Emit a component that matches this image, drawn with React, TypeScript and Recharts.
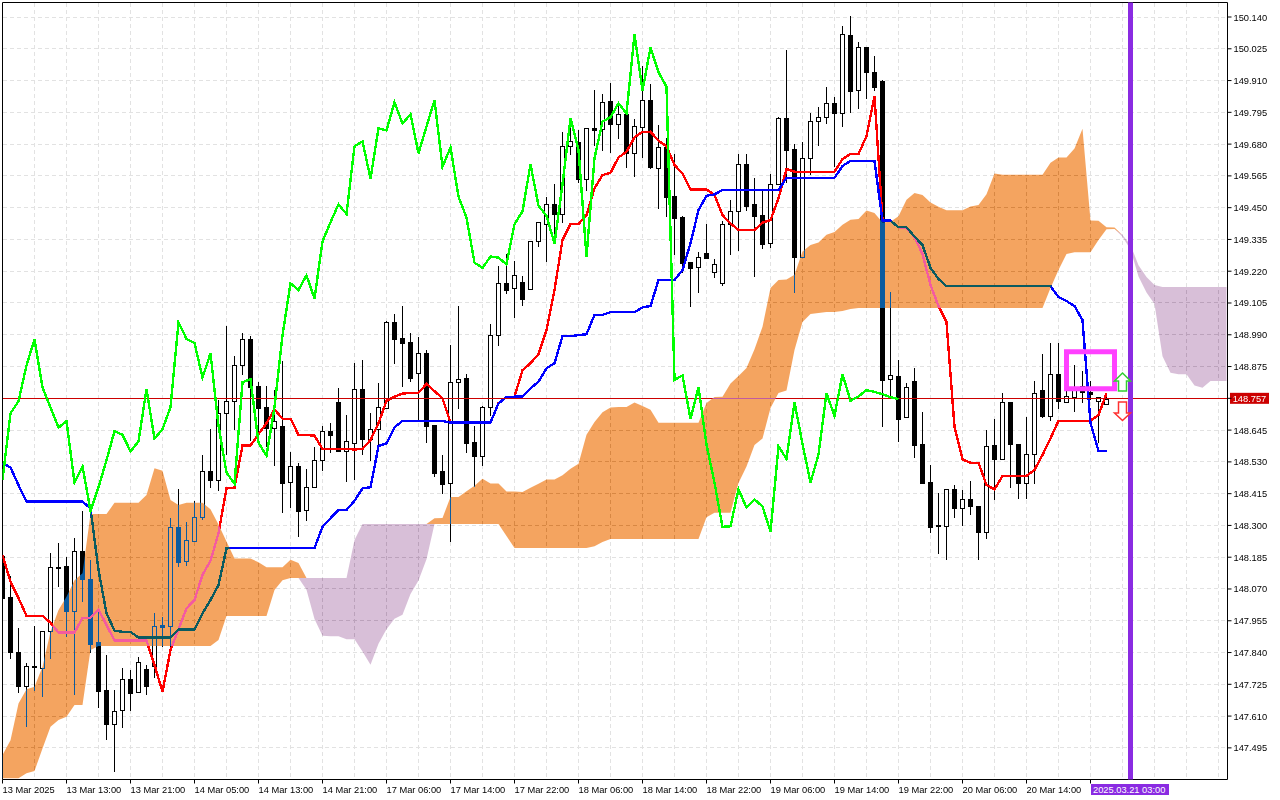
import React from 'react';
import {
  ComposedChart, Bar, Line, Area, XAxis, YAxis, CartesianGrid,
  ReferenceLine, ReferenceArea, ReferenceDot,
} from 'recharts';

const opens = [
  148.189, 148.041, 147.843, 147.720, 147.790, 147.785, 147.917, 148.150, 148.153, 147.991,
  148.206, 148.105, 147.878, 147.705, 147.582, 147.631, 147.744, 147.696, 147.779, 147.791,
  147.938, 147.936, 148.293, 148.170, 148.245, 148.332, 148.496, 148.464, 148.706, 148.749,
  148.879, 148.974, 148.803, 148.729, 148.652, 148.660, 148.458, 148.514, 148.355, 148.438,
  148.536, 148.641, 148.747, 148.568, 148.597, 148.794, 148.614, 148.648, 148.725, 149.035,
  148.977, 148.964, 148.850, 148.923, 148.662, 148.496, 148.452, 148.818, 148.834, 148.601,
  148.552, 148.728, 148.988, 149.176, 149.158, 149.181, 149.157, 149.330, 149.392, 149.462,
  149.428, 149.672, 149.688, 149.555, 149.737, 149.736, 149.836, 149.752, 149.788, 149.649,
  149.743, 149.839, 149.592, 149.668, 149.491, 149.416, 149.253, 149.236, 149.285, 149.216,
  149.178, 149.390, 149.437, 149.607, 149.463, 149.423, 149.321, 149.535, 149.773, 149.662,
  149.273, 149.629, 149.762, 149.777, 149.828, 149.791, 150.075, 149.877, 150.030, 149.940,
  149.908, 148.829, 148.841, 148.694, 148.822, 148.594, 148.456, 148.300, 148.299, 148.431,
  148.362, 148.394, 148.369, 148.277, 148.590, 148.541, 148.747, 148.595, 148.455, 148.557,
  148.789, 148.697, 148.847, 148.748, 148.766, 148.805, 148.784, 148.749, 148.738,
];

const highs = [
  148.189, 148.117, 147.929, 147.801, 147.936, 147.918, 148.200, 148.236, 148.186, 148.254,
  148.352, 148.175, 147.994, 147.831, 147.705, 147.784, 147.777, 147.823, 147.795, 147.983,
  147.968, 148.327, 148.432, 148.312, 148.388, 148.555, 148.649, 148.754, 149.022, 148.913,
  148.995, 148.985, 148.819, 148.805, 148.790, 148.895, 148.566, 148.527, 148.504, 148.583,
  148.660, 148.670, 148.797, 148.700, 148.887, 148.899, 148.707, 148.815, 149.039, 149.065,
  149.094, 148.996, 148.982, 148.935, 148.663, 148.555, 148.953, 149.094, 148.848, 148.660,
  148.732, 149.029, 149.239, 149.282, 149.256, 149.203, 149.330, 149.398, 149.489, 149.535,
  149.724, 149.749, 149.731, 149.738, 149.876, 149.861, 149.900, 149.818, 149.789, 149.770,
  149.963, 149.896, 149.748, 149.701, 149.644, 149.421, 149.253, 149.288, 149.391, 149.264,
  149.402, 149.478, 149.644, 149.644, 149.557, 149.510, 149.572, 149.777, 150.021, 149.679,
  149.688, 149.793, 149.813, 149.886, 149.849, 150.107, 150.144, 150.048, 150.031, 149.998,
  149.913, 149.145, 148.899, 148.815, 148.869, 148.711, 148.519, 148.417, 148.432, 148.446,
  148.428, 148.461, 148.370, 148.645, 148.685, 148.778, 148.747, 148.595, 148.692, 148.822,
  148.919, 148.959, 148.959, 148.790, 148.881, 148.859, 148.823, 148.765, 148.779,
];

const lows = [
  148.037, 147.818, 147.695, 147.572, 147.702, 147.680, 147.818, 148.078, 147.896, 147.686,
  148.022, 147.839, 147.640, 147.525, 147.409, 147.568, 147.629, 147.696, 147.687, 147.749,
  147.861, 147.838, 148.151, 148.153, 148.245, 148.320, 148.437, 148.426, 148.556, 148.645,
  148.846, 148.607, 148.624, 148.585, 148.516, 148.346, 148.363, 148.259, 148.317, 148.438,
  148.497, 148.563, 148.568, 148.458, 148.464, 148.556, 148.532, 148.590, 148.725, 148.884,
  148.802, 148.820, 148.682, 148.599, 148.476, 148.415, 148.241, 148.722, 148.563, 148.440,
  148.516, 148.697, 148.950, 149.139, 149.052, 149.094, 149.157, 149.309, 149.253, 149.327,
  149.396, 149.641, 149.538, 149.510, 149.673, 149.655, 149.647, 149.700, 149.595, 149.562,
  149.631, 149.589, 149.444, 149.415, 149.280, 149.213, 149.092, 149.142, 149.263, 149.194,
  149.168, 149.279, 149.294, 149.439, 149.200, 149.301, 149.305, 149.535, 149.539, 149.140,
  149.273, 149.569, 149.674, 149.754, 149.598, 149.743, 149.794, 149.808, 149.844, 149.872,
  148.657, 148.761, 148.602, 148.694, 148.545, 148.455, 148.274, 148.197, 148.175, 148.327,
  148.298, 148.339, 148.175, 148.251, 148.392, 148.539, 148.437, 148.397, 148.397, 148.449,
  148.690, 148.678, 148.721, 148.746, 148.712, 148.744, 148.754, 148.599, 148.738,
];

const closes = [
  148.037, 147.843, 147.720, 147.790, 147.787, 147.917, 148.148, 148.146, 147.991, 148.206,
  148.105, 147.872, 147.702, 147.582, 147.627, 147.743, 147.695, 147.805, 147.720, 147.935,
  147.934, 148.293, 148.169, 148.246, 148.329, 148.496, 148.466, 148.706, 148.749, 148.879,
  148.974, 148.800, 148.726, 148.654, 148.677, 148.455, 148.514, 148.353, 148.438, 148.536,
  148.641, 148.628, 148.568, 148.604, 148.793, 148.614, 148.648, 148.728, 149.035, 148.975,
  148.960, 148.835, 148.923, 148.661, 148.491, 148.451, 148.818, 148.829, 148.599, 148.552,
  148.728, 148.988, 149.176, 149.152, 149.205, 149.121, 149.328, 149.397, 149.462, 149.427,
  149.672, 149.690, 149.555, 149.737, 149.730, 149.831, 149.754, 149.788, 149.647, 149.744,
  149.839, 149.598, 149.668, 149.490, 149.414, 149.251, 149.232, 149.273, 149.269, 149.245,
  149.390, 149.437, 149.607, 149.457, 149.421, 149.320, 149.535, 149.773, 149.660, 149.273,
  149.629, 149.762, 149.777, 149.828, 149.791, 150.077, 149.873, 150.030, 149.940, 149.888,
  148.827, 148.843, 148.686, 148.800, 148.592, 148.455, 148.295, 148.297, 148.431, 148.364,
  148.394, 148.369, 148.277, 148.586, 148.541, 148.746, 148.595, 148.455, 148.557, 148.778,
  148.697, 148.847, 148.751, 148.767, 148.790, 148.783, 148.775, 148.764, 148.757,
];

const tenkan = [
  148.193, 148.096, 148.037, 147.973, 147.973, 147.973, 147.948, 147.912, 147.912, 147.912,
  147.966, 147.966, 147.996, 147.940, 147.883, 147.883, 147.883, 147.883, 147.883, 147.795,
  147.698, 147.849, 147.924, 148.000, 148.030, 148.121, 148.172, 148.272, 148.434, 148.437,
  148.589, 148.589, 148.630, 148.670, 148.720, 148.686, 148.686, 148.628, 148.627, 148.625,
  148.577, 148.577, 148.577, 148.577, 148.575, 148.577, 148.609, 148.670, 148.751, 148.766,
  148.777, 148.780, 148.780, 148.812, 148.786, 148.760, 148.672, 148.672, 148.672, 148.672,
  148.672, 148.672, 148.743, 148.764, 148.766, 148.862, 148.887, 148.920, 149.007, 149.152,
  149.333, 149.391, 149.391, 149.423, 149.520, 149.568, 149.576, 149.632, 149.652, 149.705,
  149.724, 149.725, 149.692, 149.673, 149.604, 149.574, 149.516, 149.516, 149.516, 149.496,
  149.423, 149.393, 149.369, 149.369, 149.369, 149.396, 149.405, 149.484, 149.590, 149.580,
  149.580, 149.580, 149.580, 149.580, 149.580, 149.626, 149.644, 149.644, 149.709, 149.854,
  149.405, 149.403, 149.379, 149.376, 149.344, 149.282, 149.170, 149.094, 149.036, 148.657,
  148.539, 148.527, 148.527, 148.446, 148.431, 148.479, 148.479, 148.479, 148.479, 148.501,
  148.555, 148.615, 148.679, 148.679, 148.679, 148.679, 148.679, 148.700, 148.778,
];

const kijun = [
  148.525, 148.510, 148.446, 148.386, 148.386, 148.386, 148.386, 148.386, 148.386, 148.386,
  148.386, 148.362, 148.139, 147.982, 147.919, 147.915, 147.915, 147.894, 147.894, 147.894,
  147.894, 147.894, 147.924, 147.924, 147.924, 147.982, 148.030, 148.084, 148.217, 148.218,
  148.218, 148.218, 148.218, 148.218, 148.218, 148.218, 148.218, 148.218, 148.218, 148.218,
  148.295, 148.326, 148.356, 148.356, 148.389, 148.434, 148.438, 148.587, 148.597, 148.655,
  148.678, 148.678, 148.678, 148.678, 148.678, 148.678, 148.672, 148.672, 148.672, 148.672,
  148.672, 148.672, 148.742, 148.764, 148.766, 148.766, 148.796, 148.820, 148.869, 148.887,
  148.985, 148.985, 148.989, 148.992, 149.062, 149.062, 149.072, 149.072, 149.072, 149.072,
  149.089, 149.094, 149.188, 149.188, 149.188, 149.224, 149.321, 149.441, 149.493, 149.498,
  149.514, 149.514, 149.514, 149.514, 149.514, 149.514, 149.514, 149.514, 149.558, 149.558,
  149.558, 149.558, 149.558, 149.558, 149.558, 149.601, 149.619, 149.619, 149.619, 149.619,
  149.403, 149.403, 149.379, 149.379, 149.345, 149.315, 149.232, 149.192, 149.166, 149.166,
  149.166, 149.166, 149.166, 149.166, 149.166, 149.166, 149.166, 149.166, 149.166, 149.166,
  149.166, 149.166, 149.127, 149.112, 149.094, 149.043, 148.671, 148.570, 148.570,
];

const spanA = [
  147.469, 147.523, 147.656, 147.707, 147.716, 147.789, 147.915, 147.994, 148.042, 148.102,
  148.127, 148.341, 148.341, 148.341, 148.382, 148.382, 148.382, 148.382, 148.410, 148.507,
  148.498, 148.392, 148.374, 148.382, 148.382, 148.382, 148.359, 148.303, 148.242, 148.180,
  148.180, 148.180, 148.167, 148.149, 148.149, 148.149, 148.176, 148.164, 148.067, 147.961,
  147.901, 147.899, 147.899, 147.888, 147.888, 147.844, 147.796, 147.872, 147.924, 147.962,
  147.977, 148.052, 148.101, 148.178, 148.326, 148.327, 148.403, 148.403, 148.424, 148.444,
  148.469, 148.452, 148.452, 148.423, 148.423, 148.421, 148.436, 148.451, 148.466, 148.466,
  148.482, 148.505, 148.523, 148.628, 148.674, 148.710, 148.727, 148.729, 148.729, 148.745,
  148.732, 148.719, 148.672, 148.672, 148.672, 148.672, 148.672, 148.672, 148.743, 148.765,
  148.766, 148.814, 148.841, 148.870, 148.938, 149.019, 149.159, 149.188, 149.190, 149.207,
  149.291, 149.315, 149.324, 149.352, 149.362, 149.388, 149.406, 149.409, 149.440, 149.431,
  149.396, 149.399, 149.419, 149.479, 149.503, 149.496, 149.469, 149.453, 149.441, 149.441,
  149.441, 149.454, 149.460, 149.499, 149.574, 149.569, 149.569, 149.569, 149.569, 149.569,
  149.569, 149.613, 149.632, 149.632, 149.664, 149.736, 149.404, 149.403, 149.379, 149.378,
  149.345, 149.299, 149.201, 149.143, 149.101, 148.912, 148.853, 148.847, 148.847, 148.806,
  148.798, 148.823, 148.823, 148.823,
];

const spanB = [
  147.385, 147.385, 147.385, 147.403, 147.411, 147.493, 147.571, 147.596, 147.608, 147.650,
  147.650, 147.849, 147.864, 147.864, 147.864, 147.864, 147.864, 147.864, 147.864, 147.864,
  147.864, 147.864, 147.864, 147.864, 147.864, 147.864, 147.864, 147.885, 147.972, 147.972,
  147.972, 147.972, 147.972, 147.972, 148.066, 148.102, 148.110, 148.110, 148.110, 148.110,
  148.110, 148.110, 148.110, 148.110, 148.247, 148.305, 148.305, 148.305, 148.305, 148.305,
  148.305, 148.305, 148.305, 148.305, 148.305, 148.305, 148.305, 148.305, 148.305, 148.305,
  148.305, 148.305, 148.305, 148.262, 148.218, 148.218, 148.218, 148.218, 148.218, 148.218,
  148.218, 148.218, 148.218, 148.218, 148.225, 148.240, 148.251, 148.251, 148.251, 148.251,
  148.251, 148.251, 148.251, 148.251, 148.251, 148.251, 148.251, 148.251, 148.330, 148.346,
  148.346, 148.346, 148.454, 148.513, 148.591, 148.615, 148.725, 148.779, 148.788, 148.935,
  149.036, 149.065, 149.069, 149.072, 149.072, 149.076, 149.083, 149.087, 149.087, 149.087,
  149.087, 149.087, 149.087, 149.087, 149.087, 149.087, 149.087, 149.087, 149.087, 149.087,
  149.087, 149.087, 149.087, 149.087, 149.087, 149.087, 149.087, 149.087, 149.087, 149.087,
  149.087, 149.159, 149.224, 149.282, 149.289, 149.289, 149.289, 149.333, 149.372, 149.373,
  149.351, 149.315, 149.242, 149.199, 149.170, 149.163, 149.163, 149.163, 149.163, 149.163,
  149.163, 149.163, 149.163, 149.163,
];

// the lagging line is the close moved back 26 bars
const chikou = closes.slice(26);

const priceTicks = [
  150.14, 150.025, 149.91, 149.795, 149.68, 149.565, 149.45, 149.335, 149.22, 149.105, 148.99, 148.875,
  148.76, 148.645, 148.53, 148.415, 148.3, 148.185, 148.07, 147.955, 147.84, 147.725, 147.61, 147.495,
];
const timeTicks = [0, 8, 16, 24, 32, 40, 48, 56, 64, 72, 80, 88, 96, 104, 112, 120, 128, 136];
const timeLabels = [
  '13 Mar 2025', '13 Mar 13:00', '13 Mar 21:00', '14 Mar 05:00', '14 Mar 13:00', '14 Mar 21:00',
  '17 Mar 06:00', '17 Mar 14:00', '17 Mar 22:00', '18 Mar 06:00', '18 Mar 14:00', '18 Mar 22:00',
  '19 Mar 06:00', '19 Mar 14:00', '19 Mar 22:00', '20 Mar 06:00', '20 Mar 14:00', '',
];
const gridBars = [
  4, 8, 12, 16, 20, 24, 28, 32, 36, 40, 44, 48, 52, 56, 60, 64, 68, 72, 76, 80, 84, 88, 92, 96, 100,
  104, 108, 112, 116, 120, 124, 128, 132, 136, 140, 144, 148, 152,
];

const LAST_PRICE = '148.757';
const FONT = '"Liberation Sans", Arial, sans-serif';
const LINE_WIDTH = 2.4;

const rows = spanA.map((a, i) => {
  const b = spanB[i];
  return {
    i,
    range: i < opens.length ? [lows[i], highs[i]] : null,
    open: opens[i],
    high: highs[i],
    low: lows[i],
    close: closes[i],
    tenkan: i < tenkan.length ? tenkan[i] : null,
    kijun: i < kijun.length ? kijun[i] : null,
    chikou: i < chikou.length ? chikou[i] : null,
    bull: [b, Math.max(a, b)],
    bear: [Math.min(a, b), b],
  };
});

const Candle = (props: any) => {
  const { x, y, width, height, payload } = props;
  if (payload.high == null || !height) return null;
  const unit = height / (payload.high - payload.low);
  const cx = Math.floor(x + width / 2) + 0.5;
  const top = y + (payload.high - Math.max(payload.open, payload.close)) * unit;
  const bottom = y + (payload.high - Math.min(payload.open, payload.close)) * unit;
  const up = payload.close >= payload.open;
  return (
    <g shapeRendering="crispEdges">
      <line x1={cx} x2={cx} y1={y} y2={y + height} stroke="#000" />
      <rect
        x={cx - 2}
        y={Math.round(top) + 0.5}
        width={4}
        height={Math.max(Math.round(bottom) - Math.round(top), 1)}
        fill={up ? '#fff' : '#000'}
        stroke="#000"
      />
    </g>
  );
};

const TimeTick = ({ x, y, payload }: any) => {
  const label = timeLabels[timeTicks.indexOf(payload.value)];
  return (
    <text x={x} y={y + 9} fontSize={9.3} fontFamily={FONT} fill="#000" textAnchor="start">
      {label}
    </text>
  );
};

const PriceTick = ({ x, y, payload }: any) => {
  if (payload.value === 148.76) return null;
  return (
    <text x={x} y={y + 3.5} fontSize={9.3} fontFamily={FONT} fill="#000" textAnchor="start">
      {payload.value.toFixed(3)}
    </text>
  );
};

const PriceTag = ({ viewBox }: any) => (
  <g>
    <rect x={1230} y={viewBox.y - 5.5} width={39} height={11} fill="#cc0000" />
    <text x={1249.5} y={viewBox.y + 3.5} fontSize={9.3} fontFamily={FONT} fill="#fff" textAnchor="middle">
      {LAST_PRICE}
    </text>
  </g>
);

const TimeTag = () => (
  <g>
    <rect x={1091} y={784} width={78} height={11} fill="#8a2be2" />
    <text x={1093} y={793} fontSize={9.3} fontFamily={FONT} fill="#fff">
      2025.03.21 03:00
    </text>
  </g>
);

const UpArrow = ({ cx, cy }: any) => (
  <polygon
    transform={`translate(${cx},${cy})`}
    points="0,-9 8,-1 4,-1 4,9 -4,9 -4,-1 -8,-1"
    fill="#fff"
    stroke="#32cd32"
    strokeWidth={1.5}
  />
);

const DownArrow = ({ cx, cy }: any) => (
  <polygon
    transform={`translate(${cx},${cy})`}
    points="0,9.5 8,2 4,2 4,-9 -4,-9 -4,2 -8,2"
    fill="#fff"
    stroke="#ff3030"
    strokeWidth={1.5}
  />
);

export default function App() {
  return (
    <div style={{ position: 'absolute', left: 0, top: 0, width: 1280, height: 800, background: '#fff' }}>
      <style>{'.ichimoku-cloud { mix-blend-mode: difference; }'}</style>
      <ComposedChart
        width={1280}
        height={800}
        data={rows}
        margin={{ top: 2.5, left: 2.5, right: 0, bottom: 0 }}
      >
        <CartesianGrid
          stroke="#e2e2e2"
          strokeDasharray="4 3"
          verticalValues={gridBars}
          shapeRendering="crispEdges"
        />
        <XAxis
          dataKey="i"
          type="number"
          domain={[0, 153.125]}
          allowDataOverflow
          ticks={timeTicks}
          interval={0}
          tick={<TimeTick />}
          stroke="#000"
          tickSize={4}
          tickMargin={0}
          height={20.5}
        />
        <YAxis
          orientation="right"
          type="number"
          domain={[147.3805, 150.1925]}
          allowDataOverflow
          ticks={priceTicks}
          interval={0}
          tick={<PriceTick />}
          stroke="#000"
          tickSize={4}
          tickMargin={2}
          width={52.5}
        />
        <ReferenceLine x={0} stroke="#000" />
        <ReferenceLine y={150.1925} stroke="#000" />
        <Bar dataKey="range" barSize={5} isAnimationActive={false} shape={<Candle />} />
        <Line dataKey="tenkan" stroke="#ff0000" strokeWidth={LINE_WIDTH} dot={false} activeDot={false} isAnimationActive={false} shapeRendering="crispEdges" />
        <Line dataKey="kijun" stroke="#0000ff" strokeWidth={LINE_WIDTH} dot={false} activeDot={false} isAnimationActive={false} shapeRendering="crispEdges" />
        <ReferenceLine y={148.76} stroke="#cc0000" shapeRendering="crispEdges" label={<PriceTag />} zIndex={410} />
        <Area className="ichimoku-cloud" dataKey="bull" stroke="none" fill="#0b5b9f" fillOpacity={1} dot={false} activeDot={false} isAnimationActive={false} zIndex={450} />
        <Area className="ichimoku-cloud" dataKey="bear" stroke="none" fill="#274027" fillOpacity={1} dot={false} activeDot={false} isAnimationActive={false} zIndex={451} />
        <Line dataKey="chikou" stroke="#00ff00" strokeWidth={LINE_WIDTH} dot={false} activeDot={false} isAnimationActive={false} shapeRendering="crispEdges" zIndex={460} />
        <ReferenceLine x={141} stroke="#8a2be2" strokeWidth={5} label={<TimeTag />} zIndex={600} />
        <ReferenceArea x1={133} x2={139} y1={148.795} y2={148.929} fill="none" stroke="#ff40ff" strokeWidth={5} ifOverflow="visible" zIndex={600} />
        <ReferenceDot x={140} y={148.819} shape={<UpArrow />} ifOverflow="visible" zIndex={600} />
        <ReferenceDot x={140} y={148.714} shape={<DownArrow />} ifOverflow="visible" zIndex={600} />
      </ComposedChart>
    </div>
  );
}
